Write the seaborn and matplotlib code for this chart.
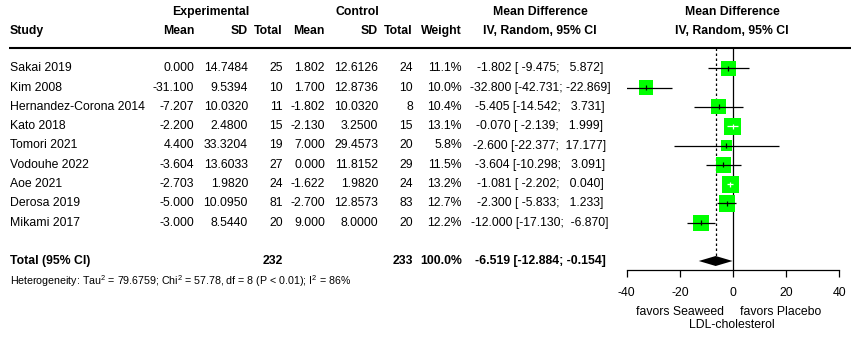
import seaborn as sns
import matplotlib.pyplot as plt
import pandas as pd
import numpy as np

# study data
study = ["Sakai 2019", "Kim 2008", "Hernandez-Corona 2014", "Kato 2018", "Tomori 2021",
         "Vodouhe 2022", "Aoe 2021", "Derosa 2019", "Mikami 2017"]
exp_mean = [0.000, -31.100, -7.207, -2.200, 4.400, -3.604, -2.703, -5.000, -3.000]
exp_sd = [14.7484, 9.5394, 10.0320, 2.4800, 33.3204, 13.6033, 1.9820, 10.0950, 8.5440]
exp_n = [25, 10, 11, 15, 19, 27, 24, 81, 20]
ctl_mean = [1.802, 1.700, -1.802, -2.130, 7.000, 0.000, -1.622, -2.700, 9.000]
ctl_sd = [12.6126, 12.8736, 10.0320, 3.2500, 29.4573, 11.8152, 1.9820, 12.8573, 8.0000]
ctl_n = [24, 10, 8, 15, 20, 29, 24, 83, 20]
weight = [11.1, 10.0, 10.4, 13.1, 5.8, 11.5, 13.2, 12.7, 12.2]
md = [-1.802, -32.800, -5.405, -0.070, -2.600, -3.604, -1.081, -2.300, -12.000]
ci_lo = [-9.475, -42.731, -14.542, -2.139, -22.377, -10.298, -2.202, -5.833, -17.130]
ci_hi = [5.872, -22.869, 3.731, 1.999, 17.177, 3.091, 0.040, 1.233, -6.870]

# pooled
tot_exp_n = 232
tot_ctl_n = 233
pooled_md = -6.519
pooled_lo = -12.884
pooled_hi = -0.154
het_text = "Heterogeneity: Tau$^{2}$ = 79.6759; Chi$^{2}$ = 57.78, df = 8 (P < 0.01); I$^{2}$ = 86%"

x_ticks = [-40, -20, 0, 20, 40]

plt.rcParams['font.family'] = ['Liberation Sans', 'DejaVu Sans']
plt.rcParams['mathtext.fontset'] = 'custom'
plt.rcParams['mathtext.rm'] = 'Liberation Sans'
plt.rcParams['mathtext.it'] = 'Liberation Sans'

fs = 8.8
W, H = 851, 337
fig = plt.figure(figsize=(W / 100, H / 100), dpi=100)
fig.patch.set_facecolor('white')

# text layer in pixel coords
tx = fig.add_axes([0, 0, 1, 1])
tx.set_xlim(0, W)
tx.set_ylim(H, 0)
tx.axis('off')

row0, step = 68.3, 19.3
rows = [row0 + i * step for i in range(len(study))]
y_total = 261
y_het = 281

def put(x, y, s, ha='right', bold=False, size=fs):
    tx.text(x, y, s, ha=ha, va='center', fontsize=size,
            fontweight='bold' if bold else 'normal', color='black')

# headers
put(211, 12, "Experimental", ha='center', bold=True)
put(357, 12, "Control", ha='center', bold=True)
put(540, 12, "Mean Difference", ha='center', bold=True)
put(732, 12, "Mean Difference", ha='center', bold=True)
put(10, 31, "Study", ha='left', bold=True)
put(194, 31, "Mean", bold=True)
put(248, 31, "SD", bold=True)
put(283, 31, "Total", bold=True)
put(325, 31, "Mean", bold=True)
put(378, 31, "SD", bold=True)
put(413, 31, "Total", bold=True)
put(462, 31, "Weight", bold=True)
put(540, 31, "IV, Random, 95% CI", ha='center', bold=True)
put(732, 31, "IV, Random, 95% CI", ha='center', bold=True)
tx.hlines(48, 9, W, color='black', lw=1.5)

for i, y in enumerate(rows):
    put(10, y, study[i], ha='left')
    put(194, y, f"{exp_mean[i]:.3f}")
    put(248, y, f"{exp_sd[i]:.4f}")
    put(283, y, f"{exp_n[i]}")
    put(325, y, f"{ctl_mean[i]:.3f}")
    put(378, y, f"{ctl_sd[i]:.4f}")
    put(413, y, f"{ctl_n[i]}")
    put(462, y, f"{weight[i]:.1f}%")
    put(540, y, f"{md[i]:.3f} [{ci_lo[i]:7.3f}; {ci_hi[i]:7.3f}]", ha='center')

put(10, y_total, "Total (95% CI)", ha='left', bold=True)
put(283, y_total, f"{tot_exp_n}", bold=True)
put(413, y_total, f"{tot_ctl_n}", bold=True)
put(462, y_total, "100.0%", bold=True)
put(540, y_total, f"{pooled_md:.3f} [{pooled_lo:.3f}; {pooled_hi:.3f}]", ha='center', bold=True)
put(10, y_het, het_text, ha='left', size=7.65)

put(680, 312, "favors Seaweed", ha='center')
put(781, 312, "favors Placebo", ha='center')
put(732, 325, "LDL-cholesterol", ha='center')

# forest axis: x from -40..40 at px 626.7..839.3, y in pixels 48..270
x0, x1 = 626.7, 839.3
ax = fig.add_axes([x0 / W, (H - 270) / H, (x1 - x0) / W, (270 - 48) / H])
ax.set_xlim(-40, 40)
ax.set_ylim(270, 48)
ax.patch.set_alpha(0)
for s in ['top', 'right', 'left']:
    ax.spines[s].set_visible(False)
ax.spines['bottom'].set_linewidth(0.9)
ax.set_yticks([])
ax.set_xticks(x_ticks)
ax.set_xticklabels([str(t) for t in x_ticks], fontsize=fs)
ax.tick_params(axis='x', length=5, width=0.9, pad=7)

df = pd.DataFrame({'md': md, 'y': rows, 'weight': weight, 'lo': ci_lo, 'hi': ci_hi})
px_per_unit = (x1 - x0) / 80
side_px = 16.8 * np.sqrt(np.array(weight) / 13.2)
area = (side_px * 0.72) ** 2
sns.scatterplot(data=df, x='md', y='y', size='weight', sizes=(area.min(), area.max()),
                marker='s', color='#00FF00', edgecolor='none', linewidth=0,
                legend=False, ax=ax, zorder=2)

ax.vlines(0, 48, 270, color='black', lw=0.9, zorder=1)
ax.vlines(pooled_md, 48, 256, color='black', lw=0.9, linestyles=(0, (2, 2)), zorder=1)

for i, y in enumerate(rows):
    inside = (ci_hi[i] - ci_lo[i]) * px_per_unit < side_px[i]
    c = 'white' if inside else 'black'
    ax.hlines(y, ci_lo[i], ci_hi[i], color=c, lw=0.9, zorder=3)
    ax.vlines(md[i], y - 2.5, y + 2.5, color=c, lw=0.9, zorder=3)

ax.fill([pooled_lo, pooled_md, pooled_hi, pooled_md],
        [y_total, y_total - 5, y_total, y_total + 5], color='black', lw=0, zorder=3)
ax.set_xlabel('')
ax.set_ylabel('')

fig.savefig('out.png', dpi=100)
